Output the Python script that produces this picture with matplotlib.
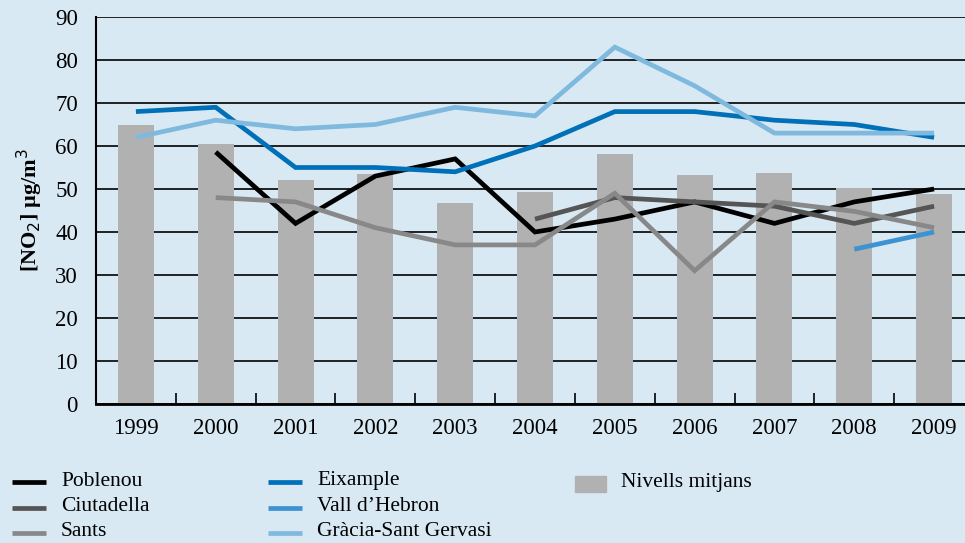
import matplotlib
matplotlib.use("Agg")
import matplotlib.pyplot as plt
from matplotlib.lines import Line2D
from matplotlib.patches import Rectangle
import numpy as np

plt.rcParams["font.family"] = ["Liberation Serif", "DejaVu Serif"]

years = ["1999", "2000", "2001", "2002", "2003", "2004", "2005", "2006", "2007", "2008", "2009"]
nivells = [65, 60.5, 52, 53.5, 46.8, 49.3, 58.1, 53.3, 53.7, 50.2, 48.8]
eixample = [68, 69, 55, 55, 54, 60, 68, 68, 66, 65, 62]
gracia = [62, 66, 64, 65, 69, 67, 83, 74, 63, 63, 63]
poblenou = [None, 58.6, 42, 53, 57, 40, 43, 47, 42, 47, 50]
ciutadella = [None, None, None, None, None, 43, 48, 47, 46, 42, 46]
sants = [None, 48, 47, 41, 37, 37, 49, 31, 47, 44.8, 41]
vall = [None, None, None, None, None, None, None, None, None, 36, 40]
yticks = [0, 10, 20, 30, 40, 50, 60, 70, 80, 90]

BG = "#d9e9f4"
C_BAR = "#b1b1b1"
series = [
    ("Poblenou", poblenou, "#000000"),
    ("Ciutadella", ciutadella, "#555555"),
    ("Sants", sants, "#888888"),
    ("Eixample", eixample, "#0070b8"),
    ("Vall d\u2019Hebron", vall, "#3d93d0"),
    ("Gr\u00e0cia-Sant Gervasi", gracia, "#80b9de"),
]

W, H = 965, 543
fig = plt.figure(figsize=(W / 100, H / 100), dpi=100, facecolor=BG)

left, right, top, bottom = 96, 974, 17, 404
ax = fig.add_axes([left / W, 1 - bottom / H, (right - left) / W, (bottom - top) / H])
ax.set_facecolor(BG)

x = np.arange(len(years))
ax.bar(x, nivells, width=0.45, color=C_BAR, zorder=2)

def to_arr(v):
    return np.array([np.nan if a is None else a for a in v], dtype=float)

for name, vals, col in series:
    ax.plot(x, to_arr(vals), color=col, lw=3.4, zorder=3, solid_capstyle="butt",
            solid_joinstyle="miter")

ax.set_xlim(-0.5, len(years) - 0.5)
ax.set_ylim(0, 90)
ax.set_yticks(yticks)
ax.set_yticklabels([str(v) for v in yticks], fontsize=16.5)
ax.set_xticks(x)
ax.set_xticklabels(years, fontsize=16.5)
ax.set_xticks(np.arange(0.5, len(years) - 0.5, 1), minor=True)
ax.tick_params(axis="x", which="major", length=0, pad=10)
ax.tick_params(axis="x", which="minor", length=8, direction="in", width=1.2, color="black")
ax.tick_params(axis="y", length=0, pad=13)
ax.yaxis.grid(True, color="black", lw=1.2, zorder=1)
ax.set_axisbelow(True)
for s in ["top", "right"]:
    ax.spines[s].set_visible(False)
ax.spines["left"].set_linewidth(1.5)
ax.spines["bottom"].set_linewidth(2.0)
ax.spines["bottom"].set_zorder(4)

fig.text(30 / W, 1 - 210 / H, "[NO$_2$] \u00b5g/m$^3$", rotation=90, ha="center", va="center",
         fontsize=16, fontweight="bold")

# legend
rows = [482, 507.5, 532.5]
def leg_line(xp, yp, col, label):
    fig.add_artist(Line2D([xp / W, (xp + 34) / W], [1 - yp / H, 1 - yp / H], color=col, lw=3.4,
                          transform=fig.transFigure, solid_capstyle="butt"))
    fig.text((xp + 49) / W, 1 - (yp - 1) / H, label, ha="left", va="center", fontsize=15.5)

for i, (name, vals, col) in enumerate(series):
    colx = 12 if i < 3 else 268
    leg_line(colx, rows[i % 3], col, name)

fig.add_artist(Rectangle((575 / W, 1 - 492 / H), 31 / W, 16 / H, color=C_BAR,
                         transform=fig.transFigure))
fig.text(621 / W, 1 - 483 / H, "Nivells mitjans", ha="left", va="center", fontsize=15.5)

fig.savefig("out.png", dpi=100, facecolor=BG)
